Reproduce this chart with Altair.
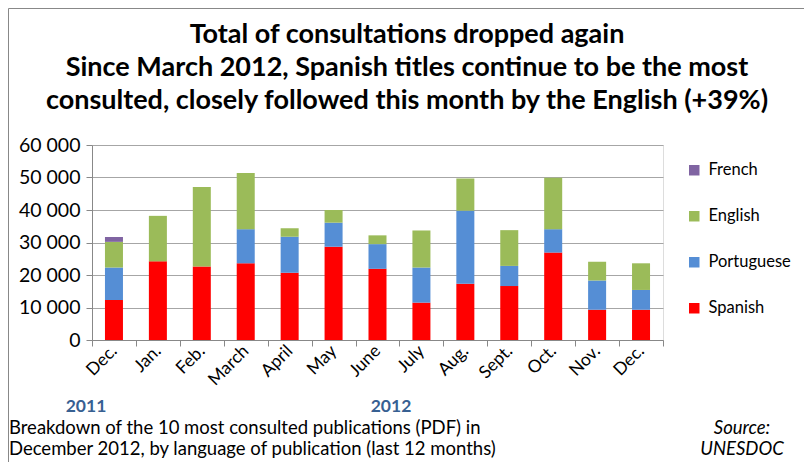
import altair as alt
import pandas as pd

months = ["Dec.", "Jan.", "Feb.", "March", "April", "May", "June",
          "July", "Aug.", "Sept.", "Oct.", "Nov.", "Dec."]
languages = ["Spanish", "Portuguese", "English", "French"]
spanish = [12300, 24200, 22600, 23600, 20700, 28700, 21900, 11500, 17300, 16600, 26900, 9300, 9300]
portuguese = [10000, 0, 0, 10500, 11100, 7400, 7600, 10800, 22500, 6200, 7200, 9000, 6100]
english = [7900, 14000, 24500, 17300, 2600, 3900, 2700, 11400, 9900, 11000, 15800, 5800, 8200]
french = [1500, 0, 0, 0, 0, 0, 0, 0, 0, 0, 0, 0, 0]

legend_order = ["French", "English", "Portuguese", "Spanish"]
colors = ["#8064A2", "#9BBB59", "#558ED5", "#FF0000"]

title_lines = ["Total of consultations dropped again",
               "Since March 2012, Spanish titles continue to be the most",
               "consulted, closely followed this month by the English (+39%)"]
years = ["2011", "2012"]
note_lines = ["Breakdown of the 10 most consulted publications  (PDF) in",
              "December 2012, by language of publication (last 12 months)"]
source_lines = ["Source:", "UNESDOC"]

FONT = "Lato"

rows = []
series = {"Spanish": spanish, "Portuguese": portuguese, "English": english, "French": french}
for r, lang in enumerate(languages):
    for i, v in enumerate(series[lang]):
        rows.append({"idx": i, "lang": lang, "value": v, "rank": r})
df = pd.DataFrame(rows)

label_expr = "[" + ",".join("'%s'" % m for m in months) + "][datum.value]"

bars = alt.Chart(df).mark_bar(width=alt.RelativeBandSize(0.41)).encode(
    x=alt.X("idx:O", scale=alt.Scale(paddingInner=0, paddingOuter=0),
            axis=alt.Axis(title=None, labelAngle=-45, labelAlign="right", labelBaseline="middle",
                          labelExpr=label_expr, tickBand="extent", labelFontSize=17.5,
                          labelColor="black", labelFont=FONT, labelPadding=2,
                          tickColor="#888888", tickSize=6, domainColor="#888888", grid=False)),
    y=alt.Y("value:Q", stack="zero", scale=alt.Scale(domain=[0, 60000]),
            axis=alt.Axis(title=None, values=[0, 10000, 20000, 30000, 40000, 50000, 60000],
                          labelExpr="replace(format(datum.value, ','), ',', ' ')",
                          labelFontSize=19.5, labelFont=FONT, labelColor="black", labelPadding=6,
                          tickColor="#888888", tickSize=6, domainColor="#888888",
                          gridColor="#a6a6a6", gridWidth=1.2)),
    color=alt.Color("lang:N", scale=alt.Scale(domain=legend_order, range=colors),
                    legend=alt.Legend(title=None, orient="none", legendX=594, legendY=17,
                                      symbolType="square", symbolSize=110, symbolStrokeWidth=0,
                                      labelFontSize=16.5, labelFont=FONT, labelColor="black",
                                      rowPadding=29, labelOffset=6)),
    order=alt.Order("rank:Q"),
)

year_df = pd.DataFrame({"t": years, "px": [-6, 299], "py": [262, 262]})
year_text = alt.Chart(year_df).mark_text(fontSize=17.5, fontWeight="bold", font=FONT,
                                         color="#376092", align="center", baseline="middle").encode(
    x=alt.X("px:Q", scale=None), y=alt.Y("py:Q", scale=None), text="t:N")

note_df = pd.DataFrame({"t": note_lines, "px": [-83, -83], "py": [283, 304]})
note_text = alt.Chart(note_df).mark_text(fontSize=18.5, font=FONT, color="black",
                                         align="left", baseline="middle").encode(
    x=alt.X("px:Q", scale=None), y=alt.Y("py:Q", scale=None), text="t:N")

src_df = pd.DataFrame({"t": source_lines, "px": [650, 650], "py": [283, 304]})
src_text = alt.Chart(src_df).mark_text(fontSize=18.5, font=FONT, fontStyle="italic", color="black",
                                       align="center", baseline="middle").encode(
    x=alt.X("px:Q", scale=None), y=alt.Y("py:Q", scale=None), text="t:N")

title_df = pd.DataFrame({"t": title_lines, "px": [315, 315, 315], "py": [-110, -77, -44]})
title_text = alt.Chart(title_df).mark_text(fontSize=27, font=FONT, fontWeight="bold", color="black",
                                           align="center", baseline="middle").encode(
    x=alt.X("px:Q", scale=None), y=alt.Y("py:Q", scale=None), text="t:N")

frame_top = alt.Chart(pd.DataFrame({"a": [0]})).mark_rule(color="#888888", strokeWidth=1).encode(
    x=alt.value(-83.5), x2=alt.value(712), y=alt.value(-136.5))
frame_left = alt.Chart(pd.DataFrame({"a": [0]})).mark_rule(color="#888888", strokeWidth=1).encode(
    x=alt.value(-83.5), y=alt.value(-136.5), y2=alt.value(322))

chart = alt.layer(bars, year_text, note_text, src_text, title_text, frame_top, frame_left).properties(
    width=571, height=195,
    autosize=alt.AutoSizeParams(type="none"),
    padding={"left": 84, "top": 137, "right": 141, "bottom": 122},
).configure_view(stroke=None).configure(background="white")

chart.save("out.html", embed_options={"renderer": "svg", "actions": False})
